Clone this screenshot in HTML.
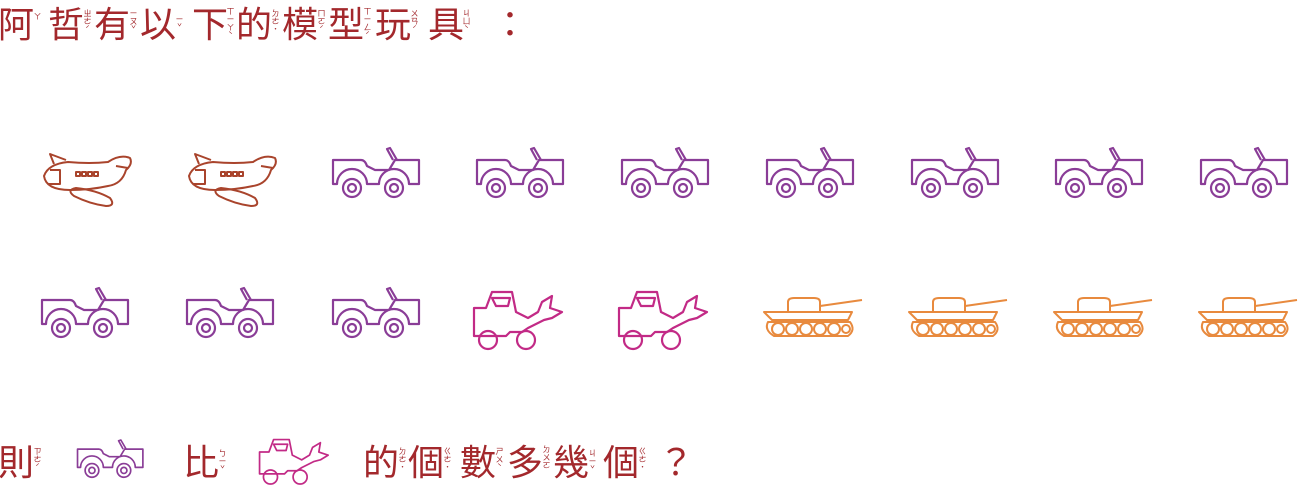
<!DOCTYPE html>
<html><head><meta charset="utf-8">
<style>
html,body{margin:0;padding:0;background:#fff;width:1299px;height:488px;overflow:hidden;position:relative;font-family:"Liberation Sans","Noto Sans CJK TC",sans-serif;}
.c{position:absolute;color:#a3282c;font-size:36px;line-height:40px;font-family:"Noto Sans CJK TC","WenQuanYi Zen Hei",sans-serif;}
.b{position:absolute;color:#a3282c;font-size:8px;line-height:8px;width:9px;text-align:center;font-family:"Noto Sans CJK TC",sans-serif;}
svg.i{position:absolute;overflow:visible}
</style></head><body>
<svg width="0" height="0" style="position:absolute">
<defs>
<g id="jeep" fill="none" stroke="#8a3d97" stroke-width="2.2" stroke-linejoin="round">
<path d="M2,12 L30,12 Q34,12 36,18 L44,22 L58,22 L64,12 L88,12 L88,36 L78,36 A15,15 0 0 0 48,36 L36,36 A15,15 0 0 0 6,36 L2,36 Z"/>
<path d="M62,12 L56,1 L59,0 L66,12"/>
<circle cx="21" cy="40" r="9"/><circle cx="21" cy="40" r="4"/>
<circle cx="63" cy="40" r="9"/><circle cx="63" cy="40" r="4"/>
</g>
<g id="plane" fill="none" stroke="#a9442c" stroke-width="2" stroke-linejoin="round">
<path d="M4,24 Q8,12 28,10 Q50,12 68,10 Q80,2 90,6 Q93,12 86,18 Q82,32 68,34 Q50,38 30,38 Q6,38 4,24 Z"/>
<path d="M10,18 L20,18 L20,32 L8,32"/>
<path d="M14,12 L10,2 L26,8"/>
<path d="M76,14 L88,16"/>
<path d="M36,36 Q56,38 70,46 Q76,54 66,54 Q50,52 34,44 Q26,38 36,36Z"/>
<rect x="36" y="20" width="4" height="4"/><rect x="42" y="20" width="4" height="4"/><rect x="48" y="20" width="4" height="4"/><rect x="54" y="20" width="4" height="4"/>
</g>
<g id="loader" fill="none" stroke="#c22a86" stroke-width="2.2" stroke-linejoin="round">
<path d="M2,18 L14,18 L20,2 L40,2 L44,22 L56,28 L66,22 L70,12 L80,6 L78,18 L90,22 L80,28 L72,30 L56,38 L50,42 L38,42 L34,46 L22,46 L2,46 Z"/>
<path d="M20,8 L24,16 L36,16 L38,8 Z"/>
<circle cx="16" cy="50" r="9"/><circle cx="54" cy="50" r="9"/>
</g>
<g id="tank" fill="none" stroke="#e88a3e" stroke-width="2" stroke-linejoin="round">
<path d="M26,16 L26,6 Q26,2 32,2 L52,2 Q58,2 58,6 L58,16"/>
<path d="M58,10 L100,4"/>
<path d="M2,16 L90,16 L86,24 L10,24 Z"/>
<path d="M6,26 L88,26 Q94,34 86,40 L12,40 Q2,34 6,26Z"/>
<circle cx="16" cy="33" r="6"/><circle cx="30" cy="33" r="6"/><circle cx="44" cy="33" r="6"/><circle cx="58" cy="33" r="6"/><circle cx="72" cy="33" r="6"/><circle cx="84" cy="33" r="4"/>
</g>
</defs></svg>

<div>
<span class="c" style="left:-2px;top:2px">阿</span><span class="b" style="left:33px;top:13px">ㄚ</span>
<span class="c" style="left:48px;top:2px">哲</span><span class="b" style="left:83px;top:10px">ㄓㄜˊ</span>
<span class="c" style="left:94px;top:2px">有</span><span class="b" style="left:129px;top:10px">ㄧㄡˇ</span>
<span class="c" style="left:140px;top:2px">以</span><span class="b" style="left:175px;top:16px">ㄧˇ</span>
<span class="c" style="left:192px;top:2px">下</span><span class="b" style="left:226px;top:8px">ㄒㄧㄚˋ</span>
<span class="c" style="left:236px;top:2px">的</span><span class="b" style="left:271px;top:10px">ㄉㄜ˙</span>
<span class="c" style="left:282px;top:2px">模</span><span class="b" style="left:317px;top:10px">ㄇㄛˊ</span>
<span class="c" style="left:328px;top:2px">型</span><span class="b" style="left:363px;top:8px">ㄒㄧㄥˊ</span>
<span class="c" style="left:375px;top:2px">玩</span><span class="b" style="left:410px;top:10px">ㄨㄢˊ</span>
<span class="c" style="left:428px;top:2px">具</span><span class="b" style="left:462px;top:10px">ㄐㄩˋ</span>
<span class="c" style="left:492px;top:2px">：</span>
</div>

<div>
<svg class="i" style="left:40px;top:152px" width="92" height="54"><use href="#plane"/></svg>
<svg class="i" style="left:185px;top:152px" width="92" height="54"><use href="#plane"/></svg>
<svg class="i" style="left:331px;top:148px" width="92" height="52"><use href="#jeep"/></svg>
<svg class="i" style="left:475px;top:148px" width="92" height="52"><use href="#jeep"/></svg>
<svg class="i" style="left:620px;top:148px" width="92" height="52"><use href="#jeep"/></svg>
<svg class="i" style="left:765px;top:148px" width="92" height="52"><use href="#jeep"/></svg>
<svg class="i" style="left:910px;top:148px" width="92" height="52"><use href="#jeep"/></svg>
<svg class="i" style="left:1054px;top:148px" width="92" height="52"><use href="#jeep"/></svg>
<svg class="i" style="left:1199px;top:148px" width="92" height="52"><use href="#jeep"/></svg>
</div>

<div>
<svg class="i" style="left:40px;top:288px" width="92" height="52"><use href="#jeep"/></svg>
<svg class="i" style="left:185px;top:288px" width="92" height="52"><use href="#jeep"/></svg>
<svg class="i" style="left:331px;top:288px" width="92" height="52"><use href="#jeep"/></svg>
<svg class="i" style="left:472px;top:290px" width="92" height="60"><use href="#loader"/></svg>
<svg class="i" style="left:617px;top:290px" width="92" height="60"><use href="#loader"/></svg>
<svg class="i" style="left:762px;top:296px" width="102" height="42"><use href="#tank"/></svg>
<svg class="i" style="left:907px;top:296px" width="102" height="42"><use href="#tank"/></svg>
<svg class="i" style="left:1052px;top:296px" width="102" height="42"><use href="#tank"/></svg>
<svg class="i" style="left:1197px;top:296px" width="102" height="42"><use href="#tank"/></svg>
</div>

<div>
<span class="c" style="left:-2px;top:440px">則</span><span class="b" style="left:33px;top:448px">ㄗㄜˊ</span>
<svg class="i" style="left:76px;top:440px;transform:scale(0.76);transform-origin:0 0" width="92" height="52"><use href="#jeep" style="stroke:#b07ab8"/></svg>
<span class="c" style="left:183px;top:440px">比</span><span class="b" style="left:218px;top:450px">ㄅㄧˇ</span>
<svg class="i" style="left:258px;top:438px;transform:scale(0.78);transform-origin:0 0" width="92" height="60"><use href="#loader" style="stroke:#d277ae"/></svg>
<span class="c" style="left:363px;top:440px">的</span><span class="b" style="left:398px;top:448px">ㄉㄜ˙</span>
<span class="c" style="left:408px;top:440px">個</span><span class="b" style="left:443px;top:448px">ㄍㄜ˙</span>
<span class="c" style="left:460px;top:440px">數</span><span class="b" style="left:495px;top:448px">ㄕㄨˋ</span>
<span class="c" style="left:507px;top:440px">多</span><span class="b" style="left:542px;top:446px">ㄉㄨㄛ</span>
<span class="c" style="left:553px;top:440px">幾</span><span class="b" style="left:588px;top:450px">ㄐㄧˇ</span>
<span class="c" style="left:603px;top:440px">個</span><span class="b" style="left:638px;top:448px">ㄍㄜ˙</span>
<span class="c" style="left:658px;top:440px">？</span>
</div>
</body></html>
